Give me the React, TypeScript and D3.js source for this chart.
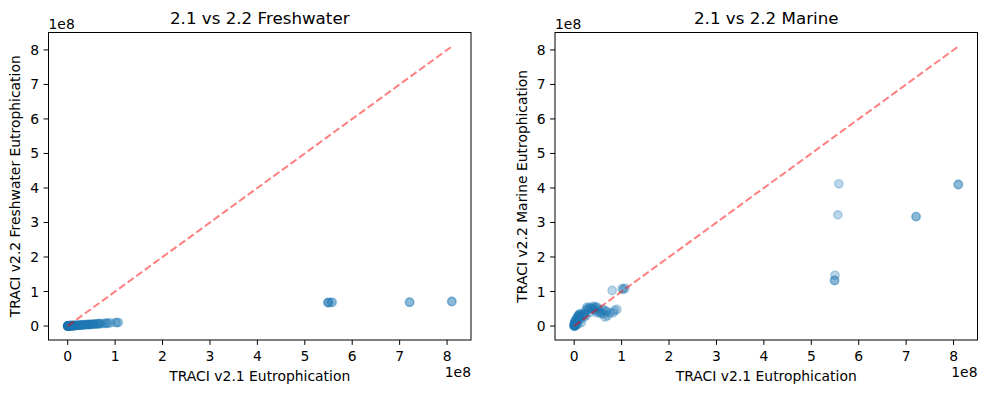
import React from "react";
import * as d3 from "d3";

// TRACI v2.1 eutrophication (units of 1e8), shared by both panels
const x21: number[] = [
  0.0, 0.0, 0.01, 0.01, 0.02, 0.02, 0.03, 0.04, 0.05, 0.06, 0.07, 0.08, 0.1, 0.12, 0.13,
  0.15, 0.18, 0.2, 0.22, 0.25, 0.27, 0.3, 0.34, 0.36, 0.4, 0.44, 0.45, 0.48, 0.52, 0.56,
  0.6, 0.65, 0.65, 0.7, 0.8, 0.82, 0.9, 1.01, 1.07, 5.49, 5.49, 5.5, 5.56, 5.58, 7.21,
  7.21, 8.1, 8.1,
  0.0, 0.0, 0.0, 0.0, 0.01, 0.01, 0.01, 0.02, 0.02, 0.03, 0.03, 0.04, 0.05, 0.06, 0.08,
  0.09, 0.1, 0.11, 0.14, 0.16, 0.2, 0.24, 0.28, 0.32, 0.38, 0.42, 0.46, 0.5, 0.55, 0.62,
  0.68, 0.75, 0.85, 1.04,
];
// TRACI v2.2 freshwater eutrophication (1e8)
const y22Fresh: number[] = [
  0.0, 0.0, 0.0, 0.01, 0.0, 0.01, 0.0, 0.01, 0.01, 0.0, 0.01, 0.01, 0.01, 0.01, 0.02,
  0.01, 0.02, 0.02, 0.02, 0.02, 0.03, 0.03, 0.03, 0.04, 0.04, 0.04, 0.05, 0.05, 0.05, 0.06,
  0.06, 0.06, 0.07, 0.07, 0.08, 0.08, 0.09, 0.1, 0.1, 0.68, 0.68, 0.68, 0.68, 0.69, 0.69,
  0.69, 0.71, 0.71,
  0.0, 0.0, 0.0, 0.0, 0.0, 0.0, 0.0, 0.0, 0.0, 0.0, 0.0, 0.0, 0.01, 0.01, 0.01,
  0.01, 0.01, 0.01, 0.01, 0.02, 0.02, 0.02, 0.03, 0.03, 0.04, 0.04, 0.04, 0.05, 0.05, 0.06,
  0.07, 0.07, 0.08, 0.1,
];
// TRACI v2.2 marine eutrophication (1e8)
const y22Marine: number[] = [
  0.0, 0.02, 0.05, 0.1, 0.0, 0.15, 0.03, 0.08, 0.2, 0.12, 0.26, 0.05, 0.3, 0.18, 0.36,
  0.1, 0.33, 0.25, 0.35, 0.3, 0.55, 0.48, 0.4, 0.52, 0.57, 0.55, 0.45, 0.38, 0.42, 0.36,
  0.48, 0.26, 0.45, 0.3, 1.03, 0.38, 0.48, 1.08, 1.1, 1.32, 1.32, 1.47, 3.22, 4.12, 3.17,
  3.17, 4.1, 4.1,
  0.0, 0.01, 0.03, 0.06, 0.0, 0.02, 0.08, 0.04, 0.12, 0.06, 0.18, 0.1, 0.14, 0.22, 0.28,
  0.32, 0.2, 0.34, 0.3, 0.27, 0.36, 0.45, 0.5, 0.54, 0.5, 0.48, 0.56, 0.52, 0.4, 0.35,
  0.42, 0.38, 0.45, 1.06,
];
const xTicks: number[] = [0, 1, 2, 3, 4, 5, 6, 7, 8];
const yTicks: number[] = [0, 1, 2, 3, 4, 5, 6, 7, 8];

const panels = [
  { title: "2.1 vs 2.2 Freshwater", ylabel: "TRACI v2.2 Freshwater Eutrophication", ys: y22Fresh, left: 48.5 },
  { title: "2.1 vs 2.2 Marine", ylabel: "TRACI v2.2 Marine Eutrophication", ys: y22Marine, left: 555 },
];

const W = 988;
const H = 393;
const TOP = 32.5;
const BOTTOM = 340;
const PW = 422.5;
const FONT = "DejaVu Sans, sans-serif";
const BLUE = "#1f77b4";

function Panel({ p }: { p: (typeof panels)[number] }) {
  const lineMax = d3.max(x21) as number;
  const xs = [...x21, 0, lineMax];
  const yv = [...p.ys, 0, lineMax];
  const [x0, x1] = d3.extent(xs) as [number, number];
  const [y0, y1] = d3.extent(yv) as [number, number];
  const xp = (x1 - x0) * 0.05;
  const yp = (y1 - y0) * 0.05;
  const x = d3.scaleLinear().domain([x0 - xp, x1 + xp]).range([p.left, p.left + PW]);
  const y = d3.scaleLinear().domain([y0 - yp, y1 + yp]).range([BOTTOM, TOP]);
  const line = d3.line<[number, number]>().x((d) => x(d[0])).y((d) => y(d[1]));
  const right = p.left + PW;
  return (
    <g fontFamily={FONT} fill="#000">
      {x21.map((v, i) => (
        <circle
          key={i}
          cx={x(v)}
          cy={y(p.ys[i])}
          r={4.2}
          fill={BLUE}
          fillOpacity={0.3}
          stroke={BLUE}
          strokeOpacity={0.3}
          strokeWidth={1.4}
        />
      ))}
      <path
        d={line([[0, 0], [lineMax, lineMax]]) as string}
        stroke="#ff0000"
        strokeOpacity={0.5}
        strokeWidth={2}
        strokeDasharray="7.4,3.2"
        fill="none"
      />
      <rect x={p.left} y={TOP} width={PW} height={BOTTOM - TOP} fill="none" stroke="#000" strokeWidth={1} />
      {xTicks.map((t) => (
        <g key={"x" + t}>
          <line x1={x(t)} x2={x(t)} y1={BOTTOM} y2={BOTTOM + 4.9} stroke="#000" strokeWidth={1} />
          <text x={x(t)} y={361} fontSize={13.9} textAnchor="middle">{t}</text>
        </g>
      ))}
      {yTicks.map((t) => (
        <g key={"y" + t}>
          <line x1={p.left - 4.9} x2={p.left} y1={y(t)} y2={y(t)} stroke="#000" strokeWidth={1} />
          <text x={p.left - 9.5} y={y(t)} dy="0.36em" fontSize={13.9} textAnchor="end">{t}</text>
        </g>
      ))}
      <text x={p.left} y={28.5} fontSize={13.9}>1e8</text>
      <text x={right} y={377} fontSize={13.9} textAnchor="end">1e8</text>
      <text x={p.left + PW / 2} y={381} fontSize={13.9} textAnchor="middle">TRACI v2.1 Eutrophication</text>
      <text
        transform={`translate(${p.left - 28.5},${(TOP + BOTTOM) / 2}) rotate(-90)`}
        fontSize={13.9}
        textAnchor="middle"
      >
        {p.ylabel}
      </text>
      <text x={p.left + PW / 2} y={24} fontSize={16.7} textAnchor="middle">{p.title}</text>
    </g>
  );
}

export default function App() {
  return (
    <svg
      width={W}
      height={H}
      style={{ position: "absolute", left: 0, top: 0, background: "#fff", display: "block" }}
    >
      <rect width={W} height={H} fill="#fff" />
      {panels.map((p) => (
        <Panel key={p.title} p={p} />
      ))}
    </svg>
  );
}
